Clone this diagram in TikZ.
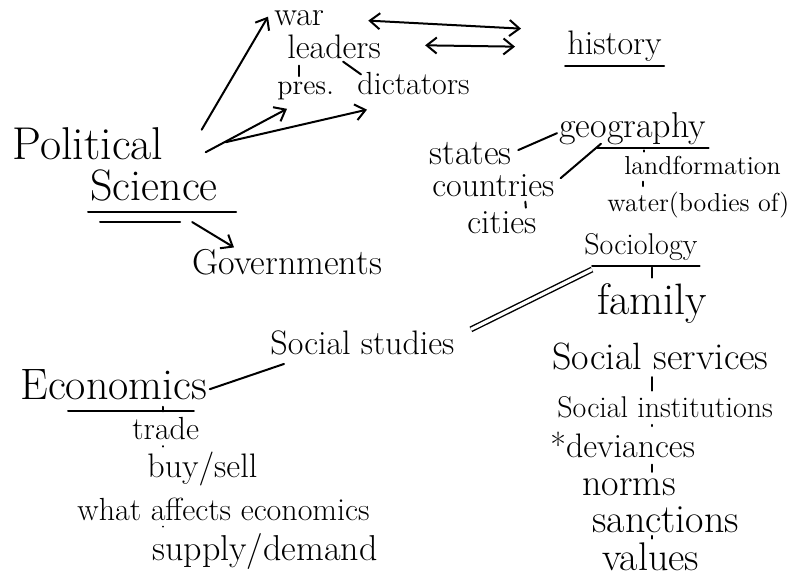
\documentclass[tikz,border=0pt]{standalone}
\usetikzlibrary{arrows.meta}
\tikzset{
  hw/.style={font=\fontsize{#1}{#1}\selectfont, anchor=base west, inner sep=1pt},
  link/.style={line width=1pt, line cap=round},
  tick/.style={line width=1pt, line cap=round, shorten <=2pt, shorten >=2pt},
}

\begin{document}
\begin{tikzpicture}[x=0.5pt, y=-0.5pt, >={Straight Barb[length=5pt,width=8pt]}]
\useasboundingbox (0,0) rectangle (796,581);
% political science and its branches
\node[hw=23] (pol) at (10,160) {Political};
\node[hw=22] (sci) at (88,201) {Science};
\node[hw=17] (war) at (272,26) {war};
\node[hw=17] (leaders) at (285,59) {leaders};
\node[hw=14] (pres) at (275,95) {pres.};
\node[hw=16] (dict) at (355,95) {dictators};
\node[hw=17] (hist) at (565,55) {history};
\node[hw=18] (gov) at (190,275) {Governments};
\draw[link] ([yshift=-4pt]sci.south west) -- ([yshift=-4pt,xshift=8pt]sci.south east);
\draw[link] ([yshift=-9pt,xshift=6pt]sci.south west) -- ([yshift=-9pt,xshift=-20pt]sci.south east);
\draw[link,->] ([xshift=18pt,yshift=-2pt]pol.north east) -- ([xshift=-2pt,yshift=6pt]war.south west);
\draw[link,->] ([xshift=20pt,yshift=-4pt]pol.east) -- ([xshift=6pt,yshift=-3pt]pres.south west);
\draw[link,->] ([xshift=30pt,yshift=1pt]pol.east) -- ([xshift=6pt,yshift=-6pt]dict.south west);
\draw[link,->] ([xshift=-14pt,yshift=-9pt]sci.south east) -- ([xshift=22pt]gov.north west);
\draw[tick] ([xshift=12pt]pres.north west) -- ([xshift=12pt]pres.north west |- leaders.south);
\draw[link] ([xshift=-20pt]leaders.south east) -- ([xshift=3pt,yshift=-2pt]dict.north west);
\draw[link,<->] ([xshift=21pt,yshift=-1pt]war.east) -- ([xshift=-22pt,yshift=9pt]hist.west);
\draw[link,<->] ([xshift=21pt,yshift=1pt]leaders.east) -- ([xshift=-25pt]hist.west);
\draw[link] ([yshift=-1pt]hist.south west) -- ([yshift=-1pt]hist.south east);

% geography
\node[hw=18] (geo) at (557,138) {geography};
\node[hw=18] (states) at (427,165) {states};
\node[hw=17] (countries) at (430,197) {countries};
\node[hw=17] (cities) at (465,234) {cities};
\node[hw=13] (land) at (622,175) {landformation};
\node[hw=13] (water) at (605,212) {water(bodies of)};
\draw[link] ([xshift=20pt]geo.south west) -- (geo.south east);
\draw[link] ([xshift=2pt,yshift=2pt]states.east) -- ([yshift=-2pt]geo.west);
\draw[link] ([xshift=2pt,yshift=4pt]countries.east) -- ([xshift=22pt,yshift=2pt]geo.south west);
\draw[link] ([xshift=16pt,yshift=-1pt]countries.south) -- ([xshift=12pt,yshift=1pt]cities.north);
\draw[tick] ([xshift=11pt]land.north west) -- ([xshift=11pt]land.north west |- geo.south);
\draw[tick] ([xshift=19pt]water.north west) -- ([xshift=19pt]water.north west |- land.south);

% sociology
\coordinate (soccol) at (652,0);
\node[hw=15] (soc) at (582,255) {Sociology};
\node[hw=22] (fam) at (595,315) {family};
\node[hw=19] (serv) at (550,370) {Social services};
\node[hw=15] (inst) at (555,418) {Social institutions};
\node[hw=17] (dev) at (548,458) {*deviances};
\node[hw=19] (norms) at (580,495) {norms};
\node[hw=20] (sanc) at (590,532) {sanctions};
\node[hw=20] (values) at (600,570) {values};
\draw[link] ([xshift=5pt,yshift=-1pt]soc.south west) -- ([yshift=-1pt]soc.south east);
\draw[tick] (soc.south -| soccol) -- (fam.north -| soccol);
\draw[tick] (serv.south -| soccol) -- (inst.north -| soccol);
\draw[tick] (inst.south -| soccol) -- (dev.north -| soccol);
\draw[tick] (dev.south -| soccol) -- (norms.north -| soccol);
\draw[tick] (sanc.south -| soccol) -- (values.north -| soccol);

% social studies in the middle
\node[hw=17] (socst) at (268,355) {Social studies};
\draw[line width=0.7pt, double, double distance=1.6pt] ([xshift=5pt,yshift=-3pt]soc.south west) -- ([xshift=7pt,yshift=7pt]socst.east);

% economics
\coordinate (ecocol) at (163,0);
\node[hw=22] (eco) at (18,400) {Economics};
\node[hw=16] (trade) at (130,440) {trade};
\node[hw=17] (buy) at (145,478) {buy/sell};
\node[hw=16] (what) at (75,520) {what affects economics};
\node[hw=18] (supply) at (150,560) {supply/demand};
\draw[link] ([xshift=25pt,yshift=-4pt]eco.south west) -- ([xshift=-8pt,yshift=-4pt]eco.south east);
\draw[link] ([yshift=-2pt]eco.east) -- ([xshift=8pt,yshift=-3pt]socst.south west);
\draw[tick] (eco.south -| ecocol) -- (trade.north -| ecocol);
\draw[tick] (trade.south -| ecocol) -- (buy.north -| ecocol);
\draw[tick] (what.south -| ecocol) -- (supply.north -| ecocol);
\end{tikzpicture}
\end{document}
